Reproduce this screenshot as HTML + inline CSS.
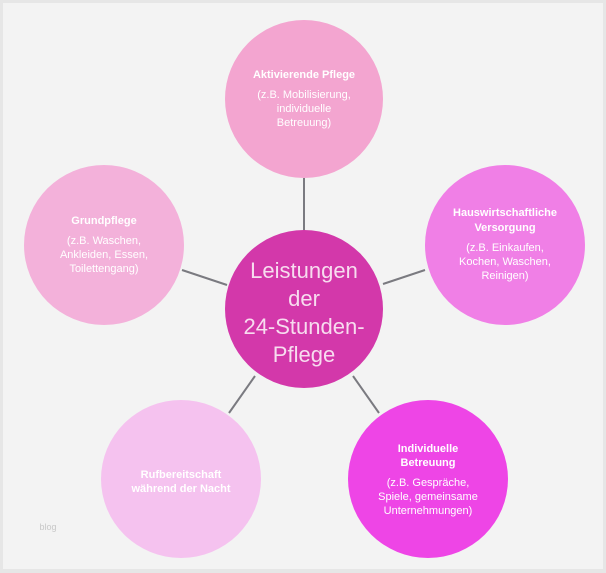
<!DOCTYPE html>
<html><head><meta charset="utf-8"><style>
html,body{margin:0;padding:0;background:#fff;}
svg{display:block;}
text{font-family:"Liberation Sans",sans-serif;fill:#fff;text-anchor:middle;}
.h{font-weight:bold;font-size:11px;}
.b{font-size:11px;}
</style></head><body>
<svg width="606" height="573" viewBox="0 0 606 573">
<rect x="0" y="0" width="606" height="573" fill="#e6e6e6"/>
<rect x="3" y="3" width="600" height="566" fill="#f3f3f3"/>
<g stroke="#7a7a80" stroke-width="2">
<line x1="304" y1="178" x2="304" y2="231"/>
<line x1="182" y1="270" x2="227" y2="285"/>
<line x1="383" y1="284" x2="425" y2="270"/>
<line x1="255" y1="376" x2="229" y2="413"/>
<line x1="353" y1="376" x2="379" y2="413"/>
</g>
<ellipse cx="304" cy="99" rx="79" ry="79" fill="#f3a5d0"/>
<ellipse cx="104" cy="245" rx="80" ry="80" fill="#f3b1da"/>
<ellipse cx="505" cy="245" rx="80" ry="80" fill="#f07fe6"/>
<ellipse cx="304" cy="309" rx="79" ry="79" fill="#d338aa"/>
<ellipse cx="181" cy="479" rx="80" ry="79" fill="#f5c2ef"/>
<ellipse cx="428" cy="479" rx="80" ry="79" fill="#ee45e6"/>
<text class="h" x="304" y="78">Aktivierende Pflege</text>
<text class="b" x="304" y="98">(z.B. Mobilisierung,</text>
<text class="b" x="304" y="112">individuelle</text>
<text class="b" x="304" y="126">Betreuung)</text>
<text class="h" x="104" y="224">Grundpflege</text>
<text class="b" x="104" y="244">(z.B. Waschen,</text>
<text class="b" x="104" y="258">Ankleiden, Essen,</text>
<text class="b" x="104" y="272">Toilettengang)</text>
<text class="h" x="505" y="216">Hauswirtschaftliche</text>
<text class="h" x="505" y="231">Versorgung</text>
<text class="b" x="505" y="251">(z.B. Einkaufen,</text>
<text class="b" x="505" y="265">Kochen, Waschen,</text>
<text class="b" x="505" y="279">Reinigen)</text>
<g style="font-size:22px">
<text x="304" y="278" style="fill:#f7dcef">Leistungen</text>
<text x="304" y="306" style="fill:#f7dcef">der</text>
<text x="304" y="334" style="fill:#f7dcef">24-Stunden-</text>
<text x="304" y="362" style="fill:#f7dcef">Pflege</text>
</g>
<text class="h" x="181" y="478">Rufbereitschaft</text>
<text class="h" x="181" y="492">während der Nacht</text>
<text class="h" x="428" y="452">Individuelle</text>
<text class="h" x="428" y="466">Betreuung</text>
<text class="b" x="428" y="486">(z.B. Gespräche,</text>
<text class="b" x="428" y="500">Spiele, gemeinsame</text>
<text class="b" x="428" y="514">Unternehmungen)</text>
<text x="48" y="530" style="font-size:9px;fill:#c8c8c8">blog</text>
</svg>
</body></html>
